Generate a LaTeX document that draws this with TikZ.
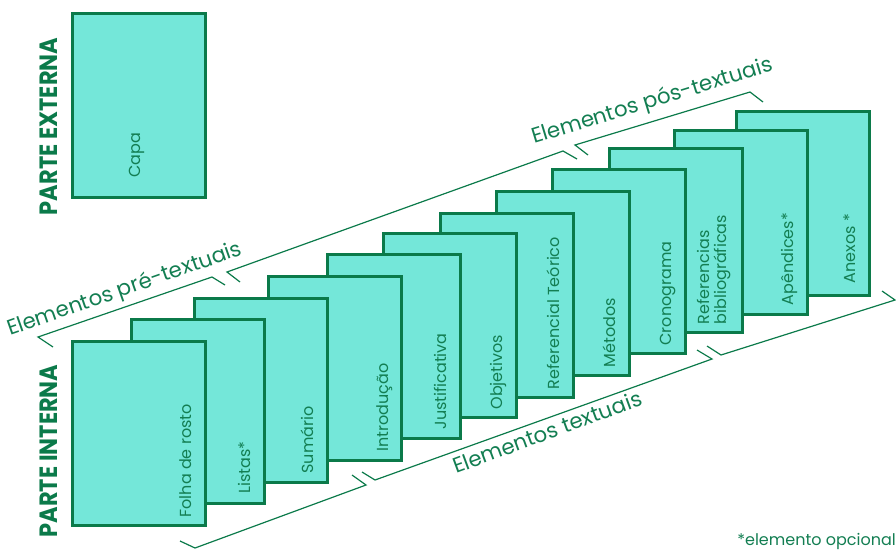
\documentclass[tikz,border=0pt]{standalone}
\usepackage{fontspec}
\setmainfont{Poppins}
\usepackage{graphicx}
\usetikzlibrary{calc}
\definecolor{pagefill}{HTML}{74E7D9}
\definecolor{dkgreen}{HTML}{0B7A4A}
\definecolor{txtgreen}{HTML}{137E52}
\begin{document}
\begin{tikzpicture}[x=1pt,y=-1pt,
  pagebox/.style={draw=dkgreen, fill=pagefill, line width=2.6pt, minimum width=133pt, minimum height=184pt, anchor=north west, inner sep=0pt},
  pagelabel/.style={rotate=90, anchor=base west, inner sep=0pt, text=txtgreen, font=\fontsize{16}{16}\selectfont},
  bracketline/.style={draw=dkgreen, line width=1.2pt},
  grouplabel/.style={anchor=base west, inner sep=0pt, text=txtgreen, font=\fontsize{21.3}{21.3}\selectfont},
  parttitle/.style={rotate=90, inner sep=0pt, text=dkgreen, font=\fontsize{25}{25}\selectfont\bfseries}
]
\useasboundingbox (0,0) rectangle (896,549);

% Parte externa
\node[parttitle] (te) at (48.5,126.5) {\scalebox{0.9}[1]{PARTE EXTERNA}};
\node[pagebox] (capa) at (71,12) {};
\node[pagelabel, anchor=west] (lcapa) at (137,178) {Capa};

% Parte interna - pages back to front
\node[pagebox] (p12) at (735,110) {};
\node[pagebox] (p11) at (673,129) {};
\node[pagebox] (p10) at (608,147) {};
\node[pagebox] (p9) at (551,168) {};
\node[pagebox] (p8) at (495,190) {};
\node[pagebox] (p7) at (439,212) {};
\node[pagebox] (p6) at (382,232) {};
\node[pagebox] (p5) at (326,253) {};
\node[pagebox] (p4) at (267,275) {};
\node[pagebox] (p3) at (193,297) {};
\node[pagebox] (p2) at (130,318) {};
\node[pagebox] (p1) at (71,340) {};

\node[pagelabel] (l1) at ($(p1.south east)+(-15,-9)$) {Folha de rosto};
\node[pagelabel] (l2) at ($(p2.south east)+(-15,-11)$) {Listas*};
\node[pagelabel] (l3) at ($(p3.south east)+(-15,-10)$) {Sumário};
\node[pagelabel] (l4) at ($(p4.south east)+(-14,-10)$) {Introdução};
\node[pagelabel] (l5) at ($(p5.south east)+(-15,-10)$) {Justificativa};
\node[pagelabel] (l6) at ($(p6.south east)+(-15,-9)$) {Objetivos};
\node[pagelabel] (l7) at ($(p7.south east)+(-15,-9)$) {Referencial Teórico};
\node[pagelabel] (l8) at ($(p8.south east)+(-15,-9)$) {Métodos};
\node[pagelabel] (l9) at ($(p9.south east)+(-15,-9)$) {Cronograma};
\node[pagelabel, anchor=south west, align=left, font=\fontsize{16}{17}\selectfont] (l10) at ($(p10.south east)+(-13,-9)$) {Referencias\\bibliográficas};
\node[pagelabel] (l11) at ($(p11.south east)+(-15,-10)$) {Apêndices*};
\node[pagelabel] (l12) at ($(p12.south east)+(-15,-13)$) {Anexos *};

\node[parttitle] (ti) at (48.5,451) {\scalebox{0.9}[1]{PARTE INTERNA}};

% brackets
\draw[bracketline] (53,347) -- (38,337) -- (212,277) -- (225,285);
\draw[bracketline] (240,282) -- (227,272) -- (563,151) -- (577,159);
\draw[bracketline] (588,155) -- (575,145) -- (750,92) -- (763,102);
\draw[bracketline] (180,541) -- (195,548) -- (366,485) -- (352,475);
\draw[bracketline] (362,472) -- (375,480) -- (712,359) -- (697,350);
\draw[bracketline] (707,346) -- (721,355) -- (895,300) -- (882,291);

\node[grouplabel, rotate=19.3] (gpre) at (10,336) {Elementos pré-textuais};
\node[grouplabel, rotate=17] (gpos) at (534,144) {Elementos pós-textuais};
\node[grouplabel, rotate=20.3] (gtex) at (456,474) {Elementos textuais};

\node[anchor=base east, inner sep=0pt, text=txtgreen, font=\fontsize{16}{16}\selectfont] (nota) at (896,545) {*elemento opcional};
\end{tikzpicture}
\end{document}
